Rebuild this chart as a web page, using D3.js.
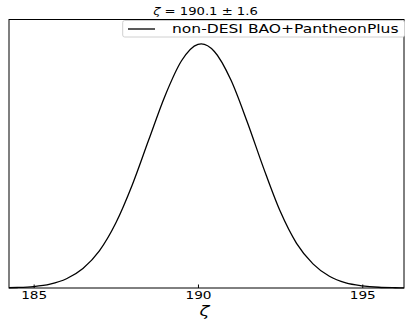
<!DOCTYPE html>
<html lang="en">
<head>
    <meta charset="UTF-8">
    <title>zeta posterior</title>
    <script src="https://d3js.org/d3.v7.min.js"></script>
    <style>
        body { margin: 0; background: white; }
        text { font-family: "DejaVu Sans", sans-serif; fill: black; }
    </style>
</head>
<body>
    <svg id="svg1" width="413" height="326" style="background: white"></svg>

    <script>
        // data -----------------------------------------------------------------------
        const zetaValues = [184.25, 184.5, 185, 185.5, 186, 186.5, 187, 187.5, 188, 188.5, 189, 189.5,
                            190, 190.1, 190.5, 191, 191.5, 192, 192.5, 193, 193.5, 194, 194.5, 195,
                            195.5, 196, 196.27];
        const densityValues = [0.001, 0.002, 0.006, 0.016, 0.038, 0.08, 0.152, 0.266, 0.422, 0.606, 0.788, 0.931,
                               0.998, 1.0, 0.969, 0.853, 0.68, 0.49, 0.315, 0.183, 0.099, 0.048, 0.021, 0.009,
                               0.003, 0.001, 0.0005];
        const xTicks = [185, 190, 195];
        const xLimits = [184.25, 196.27];
        const yLimits = [0, 1.1];
        const seriesName = "non-DESI BAO+PantheonPlus";
        const titleValue = "= 190.1 \u00b1 1.6";

        // chart setup ----------------------------------------------------------------
        const svg = d3.select("svg#svg1");
        const margin = {top: 19.5, right: 9, bottom: 38, left: 9};
        const width = 413, height = 326;
        const x0 = margin.left, x1 = width - margin.right;
        const y0 = margin.top, y1 = height - margin.bottom;
        const sx = 1.3;   // reference text is stretched sideways

        const xScale = d3.scaleLinear().domain(xLimits).range([x0, x1]);
        const yScale = d3.scaleLinear().domain(yLimits).range([y1, y0]);

        // curve ----------------------------------------------------------------------
        const points = zetaValues.map((z, i) => [z, densityValues[i]]);
        const line = d3.line()
            .x(d => xScale(d[0]))
            .y(d => yScale(d[1]))
            .curve(d3.curveMonotoneX);

        svg.append("path")
            .datum(points)
            .attr("d", line)
            .attr("fill", "none")
            .attr("stroke", "black")
            .attr("stroke-width", 1.3);

        // frame + x axis -------------------------------------------------------------
        svg.append("rect")
            .attr("x", x0).attr("y", y0)
            .attr("width", x1 - x0).attr("height", y1 - y0)
            .attr("fill", "none")
            .attr("stroke", "black")
            .attr("stroke-width", 1);

        const xAxis = d3.axisBottom(xScale)
            .tickValues(xTicks)
            .tickSizeInner(-3.5)
            .tickSizeOuter(0)
            .tickPadding(0)
            .tickFormat(d3.format("d"));
        const gx = svg.append("g")
            .attr("transform", `translate(0, ${y1})`)
            .call(xAxis);
        gx.select(".domain").remove();
        gx.selectAll(".tick line").attr("stroke", "black");
        gx.selectAll("text")        // stretch each label around its own tick
            .attr("y", 11)
            .attr("dy", 0)
            .attr("font-size", 10.5)
            .attr("font-family", "DejaVu Sans, sans-serif")
            .attr("transform", `scale(${sx},1)`);

        // x label
        svg.append("text")
            .attr("transform", `translate(${(x0 + x1) / 2 - 2}, 316) scale(${sx},1)`)
            .attr("text-anchor", "middle")
            .attr("font-size", 14)
            .attr("font-style", "italic")
            .text("\u03b6");

        // title
        const title = svg.append("text")
            .attr("transform", `translate(${(x0 + x1) / 2 - 1}, 15) scale(1.2,1)`)
            .attr("text-anchor", "middle")
            .attr("font-size", 11);
        title.append("tspan").attr("font-style", "italic").text("\u03b6 ");
        title.append("tspan").text(titleValue);

        // legend ---------------------------------------------------------------------
        const legend = svg.append("g");
        legend.append("rect")
            .attr("x", 122.7).attr("y", 20.5)
            .attr("width", x1 - 122.7 + 0.5).attr("height", 16.5)
            .attr("rx", 2)
            .attr("fill", "white")
            .attr("stroke", "#d0d0d0")
            .attr("stroke-width", 1);
        legend.append("line")
            .attr("x1", 128).attr("x2", 155)
            .attr("y1", 29).attr("y2", 29)
            .attr("stroke", "black")
            .attr("stroke-width", 1.3);
        legend.append("text")
            .attr("transform", `translate(172, 33) scale(1.35,1)`)
            .attr("font-size", 11.5)
            .text(seriesName);
    </script>
</body>
</html>
